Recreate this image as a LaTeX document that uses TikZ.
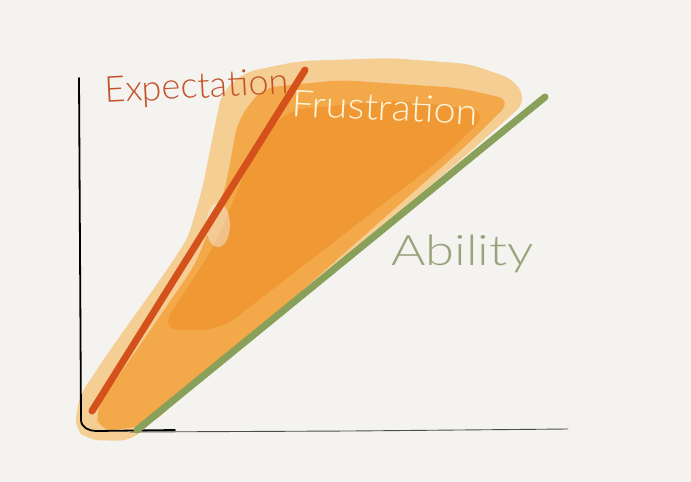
\documentclass[tikz,border=0pt]{standalone}
\usepackage{fontspec}
\setmainfont{Lato}[UprightFont=* Light]
\definecolor{paper}{HTML}{F4F3EF}
\definecolor{expcol}{HTML}{D4511B}
\definecolor{abicol}{HTML}{88A05A}
\definecolor{frushi}{HTML}{F6C57C}
\definecolor{frusmid}{HTML}{F3A541}
\definecolor{frusdeep}{HTML}{F0922B}
\definecolor{exptext}{HTML}{C4532C}
\definecolor{abitext}{HTML}{98A37C}
\definecolor{frustext}{HTML}{FDF6DC}
\tikzset{hand/.style={inner sep=0pt,anchor=base west},
 stroke/.style={line width=7pt,line cap=round}}
\begin{document}
\begin{tikzpicture}[x=1pt,y=-1pt]
\fill[paper](0,0)rectangle(691,482);
\useasboundingbox(0,0)rectangle(691,482);
% frustration wash
\fill[frushi,rounded corners=12pt,opacity=0.8](74,428)--(80,395)--(110,350)--(160,280)--(188,238)--(202,190)--(212,140)--(222,92)--(245,72)--(300,61)--(390,58)--(470,64)--(515,80)--(526,102)--(470,152)--(175,402)--(130,441)--(88,440)--cycle;
\fill[frusmid,rounded corners=15pt,opacity=0.9](95,410)--(140,345)--(195,265)--(225,190)--(238,120)--(262,88)--(340,80)--(460,88)--(512,100)--(470,142)--(150,425)--(100,432)--cycle;
\fill[frusdeep,rounded corners=20pt,opacity=0.7](160,330)--(215,245)--(250,160)--(285,110)--(400,100)--(490,112)--(440,160)--(220,330)--cycle;
\fill[paper,opacity=0.45](218,225)ellipse[x radius=12pt,y radius=22pt];
% axes
\draw[black,line width=1.8pt,line cap=round](79,78)--(81,420) to[out=-88,in=180](96,431)--(175,430);
\draw[black!70,line width=0.9pt,line cap=round](130,432)--(350,431)--(568,429);
% lines
\draw[stroke,expcol](92,411)coordinate(expstart)--(305,70)coordinate(expend);
\draw[stroke,abicol](137,430)coordinate(abistart)--(545,97)coordinate(abiend);
% labels
\node[hand,exptext,font=\fontsize{36}{36}\selectfont,rotate=3](explab)at(105,103){Expectation};
\node[hand,frustext,font=\fontsize{37}{37}\selectfont,xscale=1.07,rotate=-3](fruslab)at(291,116){Frustration};
\node[hand,abitext,font=\fontsize{42}{42}\selectfont,xscale=1.25](abilab)at(391,265){Ability};
\end{tikzpicture}
\end{document}
